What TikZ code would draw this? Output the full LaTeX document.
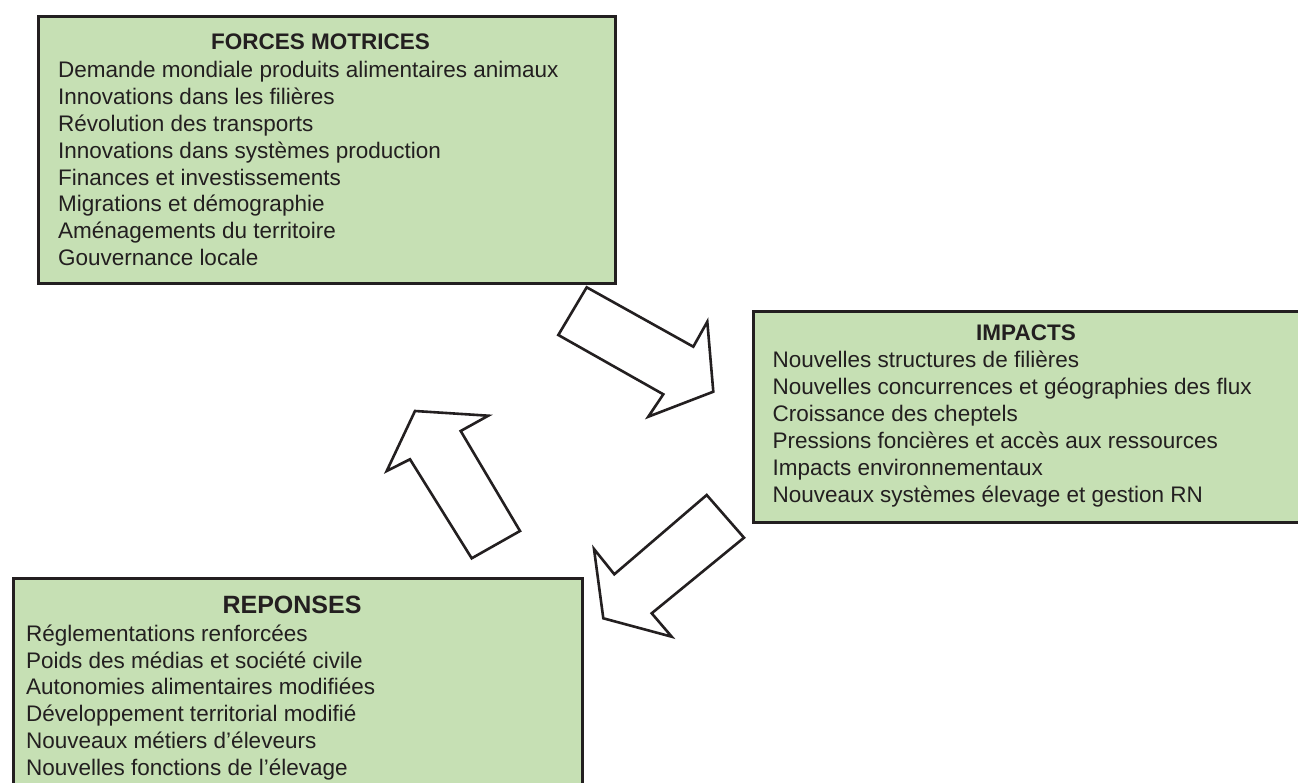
\documentclass[tikz,border=0pt]{standalone}
\usepackage{fontspec}
\setmainfont{Liberation Sans}
\definecolor{boxfill}{RGB}{198,224,180}
\definecolor{boxline}{RGB}{35,31,32}
\begin{document}
\begin{tikzpicture}[x=1pt,y=-1pt,
  panel/.style={draw=boxline,fill=boxfill,line width=3pt,anchor=north west,inner sep=0pt},
  bigarrow/.style={draw=boxline,fill=white,line width=2.6pt,line join=miter},
  ttl/.style={font=\fontsize{22.5}{27}\selectfont\bfseries,anchor=base,inner sep=0pt,text=boxline},
  item/.style={font=\fontsize{22.5}{27}\selectfont,anchor=base west,inner sep=0pt,text=boxline}]
\useasboundingbox (0,0) rectangle (1298,783);
\fill[white] (0,0) rectangle (1298,783);

% boxes
\node[panel,minimum width=577pt,minimum height=266.5pt] (fm) at (36.5,15.5) {};
\node[panel,minimum width=560pt,minimum height=210pt] (im) at (752,310.5) {};
\node[panel,minimum width=569pt,minimum height=230pt] (re) at (11.5,576.5) {};

% forces motrices
\node[ttl] (fmt) at (320.5,50) {FORCES MOTRICES};
\foreach \t [count=\i from 0] in {Demande mondiale produits alimentaires animaux,
  Innovations dans les filières,
  Révolution des transports,
  Innovations dans systèmes production,
  Finances et investissements,
  Migrations et démographie,
  Aménagements du territoire,
  Gouvernance locale}
  \node[item] (fm\i) at (58,{77.5+26.9*\i}) {\t};

% impacts
\node[ttl] (imt) at (1026,340.5) {IMPACTS};
\foreach \t [count=\i from 0] in {Nouvelles structures de filières,
  Nouvelles concurrences et géographies des flux,
  Croissance des cheptels,
  Pressions foncières et accès aux ressources,
  Impacts environnementaux,
  Nouveaux systèmes élevage et gestion RN}
  \node[item] (im\i) at (772.5,{367.5+26.9*\i}) {\t};

% reponses
\node[ttl,font=\fontsize{25}{30}\selectfont\bfseries] (ret) at (292,613) {REPONSES};
\foreach \t [count=\i from 0] in {Réglementations renforcées,
  Poids des médias et société civile,
  Autonomies alimentaires modifiées,
  Développement territorial modifié,
  Nouveaux métiers d’éleveurs,
  Nouvelles fonctions de l’élevage}
  \node[item] (re\i) at (26,{641.5+26.7*\i}) {\t};

% block arrows
\draw[bigarrow] (586.7,287.3) -- (693.3,346.7) -- (707.3,321.7) -- (713.3,391.7)
  -- (648.3,416.7) -- (663.3,394.3) -- (558.3,335) -- cycle;
\draw[bigarrow] (706.7,495) -- (744,537.7) -- (651.7,613.3) -- (671.7,636.7)
  -- (603.3,618.3) -- (594,549) -- (614.3,574.3) -- cycle;
\draw[bigarrow] (415,411) -- (488.3,415.7) -- (460.7,431) -- (520,531)
  -- (471.7,558.3) -- (410,459.3) -- (386.7,471) -- cycle;
\end{tikzpicture}
\end{document}
